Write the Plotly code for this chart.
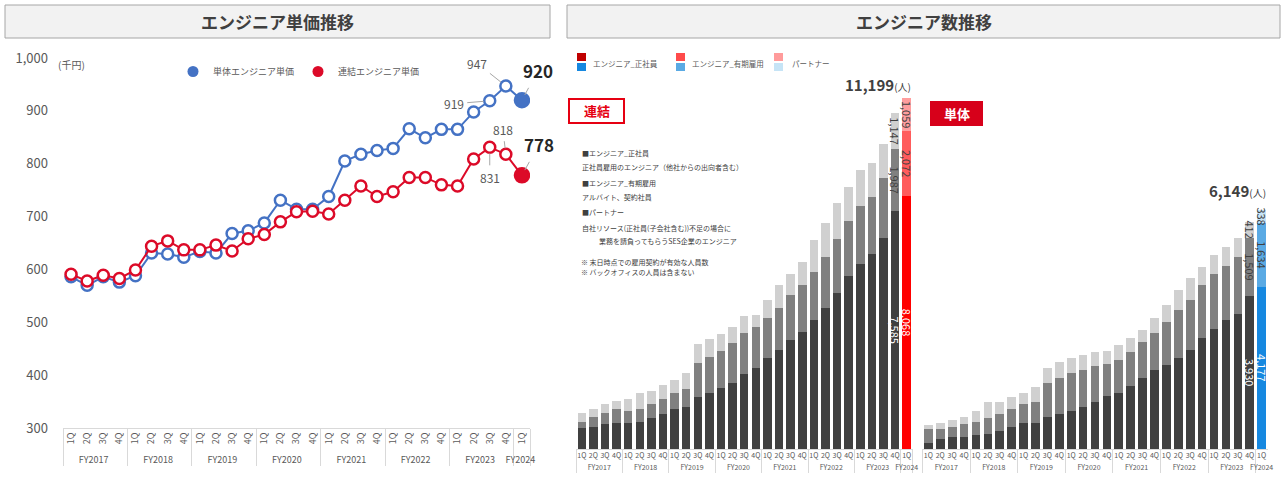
import plotly.graph_objects as go

W, H = 1286, 484
FONT = "Noto Sans CJK JP"

# ---------------- data ----------------
fiscal_years = ["FY2017", "FY2018", "FY2019", "FY2020", "FY2021", "FY2022", "FY2023", "FY2024"]
quarters = ["1Q", "2Q", "3Q", "4Q"]
quarters_per_year = [4, 4, 4, 4, 4, 4, 4, 1]

# engineer unit price (thousand yen)
unit_price_single = [586, 570, 586, 576, 588, 631, 629, 623, 634, 631, 668, 673, 688, 731, 714,
                     714, 738, 805, 818, 825, 829, 866, 849, 865, 865, 898, 919, 947, 920]
unit_price_consol = [591, 578, 589, 583, 599, 644, 654, 637, 637, 646, 635, 658, 666, 690, 709,
                     710, 705, 731, 758, 738, 747, 774, 774, 760, 758, 809, 831, 818, 778]

# engineer headcount - consolidated
consol_regular = [660, 711, 788, 820, 839, 861, 979, 1110, 1266, 1349, 1675, 1796, 1936, 2096, 2393,
                  2574, 2903, 3158, 3477, 3732, 4115, 4488, 4986, 5528, 5902, 6221, 6721, 7585, 8068]
consol_fixed = [211, 319, 370, 446, 373, 415, 447, 485, 530, 565, 1078, 1148, 1200, 1276, 1317,
                1327, 1276, 1340, 1436, 1500, 1531, 1627, 1713, 1755, 1850, 1827, 1914, 1987, 2072]
consol_partner = [287, 236, 278, 275, 383, 520, 434, 447, 421, 520, 587, 565, 523, 529, 533,
                  374, 574, 734, 670, 733, 1021, 1104, 1158, 1084, 1148, 1066, 1095, 1147, 1059]

# engineer headcount - standalone
single_regular = [163, 249, 300, 317, 360, 377, 463, 574, 661, 677, 816, 893, 985, 1088, 1217,
                  1364, 1449, 1621, 1827, 2033, 2161, 2334, 2547, 2848, 3080, 3319, 3473, 3930, 4177]
single_fixed = [344, 274, 274, 318, 343, 412, 429, 455, 489, 541, 890, 934, 970, 945, 919,
                823, 841, 875, 926, 952, 1107, 1243, 1287, 1372, 1423, 1390, 1459, 1509, 1634]
single_partner = [110, 138, 172, 196, 275, 429, 326, 301, 299, 370, 378, 412, 386, 386, 360,
                  335, 386, 360, 309, 386, 437, 514, 558, 471, 489, 481, 489, 412, 338]

series_names = ["エンジニア_正社員", "エンジニア_有期雇用", "パートナー"]
price_names = ["単体エンジニア単価", "連結エンジニア単価"]

note_lines = [
    "■エンジニア_正社員",
    "正社員雇用のエンジニア（他社からの出向者含む）",
    "■エンジニア_有期雇用",
    "アルバイト、契約社員",
    "■パートナー",
    "自社リソース(正社員(子会社含む))不足の場合に",
    "　業務を請負ってもらうSES企業のエンジニア",
    "※ 末日時点での雇用契約が有効な人員数",
    "※ バックオフィスの人員は含まない",
]

# ---------------- helpers ----------------
fy_labels, q_labels = [], []
for fy, nq in zip(fiscal_years, quarters_per_year):
    for q in quarters[:nq]:
        fy_labels.append(fy)
        q_labels.append(q)
xcat = [fy_labels, q_labels]
N = len(q_labels)


def px(x):
    return x / W


def py(y):
    return 1 - y / H


BLUE = "#4472C4"
RED = "#DC0A28"
GRAY_TXT = "#595959"
DARK_TXT = "#262626"

fig = go.Figure()

# ---------------- left: unit price lines ----------------
for vals, col in [(unit_price_single, BLUE), (unit_price_consol, RED)]:
    n = len(vals)
    fig.add_trace(go.Scatter(
        x=xcat, y=vals, mode="lines+markers", xaxis="x", yaxis="y",
        line=dict(color=col, width=2),
        marker=dict(size=[11] * (n - 1) + [14], color=["white"] * (n - 1) + [col], opacity=1,
                    line=dict(color=col, width=2.5)),
        showlegend=False, hoverinfo="skip"))

for name, col in zip(price_names, [BLUE, RED]):
    fig.add_trace(go.Scatter(
        x=[[fy_labels[0]], [q_labels[0]]], y=[None], mode="markers", xaxis="x", yaxis="y",
        marker=dict(size=11, color=col, opacity=1), name=name, hoverinfo="skip"))

# ---------------- right: stacked bars ----------------
gray_cols = ["#404040", "#808080", "#D0D0D0"]
red_cols = ["#FF0000", "#FF5C5C", "#FF9E9E"]
blue_cols = ["#1688E0", "#5AAAE4", "#C6E4F6"]
legend_red_cols = ["#C00000", "#FF4B4B", "#FF9B9B"]
text_cols = ["#FFFFFF", "#404040", "#404040"]

for (xa, ya, series, last_cols) in [
    ("x2", "y2", [consol_regular, consol_fixed, consol_partner], red_cols),
    ("x3", "y3", [single_regular, single_fixed, single_partner], blue_cols),
]:
    for vals, gcol, lcol, tcol, nm in zip(series, gray_cols, last_cols, text_cols, series_names):
        m = len(vals)
        texts = [""] * (m - 2) + [f"{v:,}" for v in vals[-2:]]
        fig.add_trace(go.Bar(
            x=xcat, y=vals, xaxis=xa, yaxis=ya, name=nm,
            marker=dict(color=[gcol] * (m - 1) + [lcol], line=dict(width=0)),
            text=texts, textposition="inside", textangle=90, insidetextanchor="middle",
            constraintext="none", textfont=dict(size=11, color=tcol, family=FONT),
            showlegend=False, hoverinfo="skip"))

# ---------------- axes ----------------
xcommon = dict(type="multicategory", showgrid=False, zeroline=False, ticks="",
               showdividers=True, dividercolor="#D9D9D9", dividerwidth=1,
               showline=True, linecolor="#D9D9D9", linewidth=1, automargin=False,
               range=[-0.5, N - 0.5], autorange=False)
fig.update_layout(
    template="none",
    xaxis=dict(domain=[px(63), px(530)], anchor="y", tickangle=-90,
               tickfont=dict(size=9, color=GRAY_TXT, family=FONT), **xcommon),
    yaxis=dict(domain=[py(428), py(58)], anchor="x", range=[300, 1000], autorange=False,
               tickvals=list(range(300, 1001, 100)), tickformat=",d", automargin=False,
               showgrid=False, zeroline=False, showline=False, ticks="",
               ticklabelstandoff=14, tickfont=dict(size=13, color=GRAY_TXT, family=FONT)),
    xaxis2=dict(domain=[px(576), px(912.5)], anchor="y2", tickangle=0,
                tickfont=dict(size=7, color=GRAY_TXT, family=FONT), **xcommon),
    yaxis2=dict(domain=[py(449), py(58)], anchor="x2", range=[0, 12476], autorange=False,
                visible=False, automargin=False),
    xaxis3=dict(domain=[px(922.4), px(1267.6)], anchor="y3", tickangle=0,
                tickfont=dict(size=7, color=GRAY_TXT, family=FONT), **xcommon),
    yaxis3=dict(domain=[py(449), py(58)], anchor="x3", range=[0, 10059], autorange=False,
                visible=False, automargin=False),
    barmode="stack", bargap=0.27,
    width=W, height=H, margin=dict(l=0, r=0, t=0, b=0, pad=0), autosize=False,
    paper_bgcolor="white", plot_bgcolor="white",
    font=dict(family=FONT, color=GRAY_TXT),
    showlegend=True,
    legend=dict(orientation="h", x=px(173), y=py(57), xanchor="left", yanchor="top",
                traceorder="normal",
                font=dict(size=9, color=GRAY_TXT, family=FONT),
                entrywidth=80, entrywidthmode="pixels", bgcolor="rgba(0,0,0,0)"),
)

shapes = []
annotations = []


def paper_text(x, y, text, size, color, xanchor="center", yanchor="middle"):
    annotations.append(dict(xref="paper", yref="paper", x=px(x), y=py(y), text=text,
                            xanchor=xanchor, yanchor=yanchor, showarrow=False,
                            font=dict(size=size, color=color, family=FONT)))


# title bars
for x0, x1, title in [(5, 550, "エンジニア単価推移"), (567, 1280, "エンジニア数推移")]:
    shapes.append(dict(type="rect", xref="paper", yref="paper", x0=px(x0), x1=px(x1),
                       y0=py(38), y1=py(5), fillcolor="#F2F2F2",
                       line=dict(color="#A6A6A6", width=1)))
    paper_text((x0 + x1) / 2, 22, f"<b>{title}</b>", 17, "#404040")

# unit label
paper_text(56, 65, "(千円)", 10, GRAY_TXT, xanchor="left")

# data labels on lines (index of point, arrow offsets, emphasis)
last = N - 1
label_specs = [
    (unit_price_single, last - 2, -36, 3, False),
    (unit_price_single, last - 1, -29, -23, False),
    (unit_price_single, last, 16, -30, True),
    (unit_price_consol, last - 2, 0, 30, False),
    (unit_price_consol, last - 1, -3, -25, False),
    (unit_price_consol, last, 17, -31, True),
]
for vals, i, ax, ay, big in label_specs:
    annotations.append(dict(
        xref="x", yref="y", x=i, y=vals[i], text=(f"<b>{vals[i]}</b>" if big else f"{vals[i]}"),
        showarrow=True, arrowhead=0, arrowwidth=1, arrowcolor="#A6A6A6", ax=ax, ay=ay,
        standoff=6, startstandoff=2 if not big else 4,
        font=dict(size=17 if big else 12, color=DARK_TXT if big else GRAY_TXT, family=FONT)))

# totals on bar charts
for xa, ya, series, yshift in [("x2", "y2", [consol_regular, consol_fixed, consol_partner], 1),
                               ("x3", "y3", [single_regular, single_fixed, single_partner], 7)]:
    total = sum(s[-1] for s in series)
    annotations.append(dict(
        xref=xa, yref=ya, x=N - 0.5, y=total, xanchor="right", yanchor="bottom", yshift=yshift,
        text=f"<b>{total:,}</b><span style='font-size:10px'>(人)</span>", showarrow=False,
        font=dict(size=15, color="#404040", family=FONT)))

# 連結 / 単体 badges
shapes.append(dict(type="rect", xref="paper", yref="paper", x0=px(569), x1=px(624),
                   y0=py(123), y1=py(99), fillcolor="white", line=dict(color="#E60012", width=2)))
paper_text(596.5, 111, "<b>連結</b>", 13, "#E60012")
shapes.append(dict(type="rect", xref="paper", yref="paper", x0=px(930), x1=px(983),
                   y0=py(126), y1=py(101), fillcolor="#D7001A", line=dict(width=0)))
paper_text(956.5, 113.5, "<b>単体</b>", 13, "white")

# custom legend for bars
leg_x = [577, 676, 774]
leg_text_x = [591, 690, 790]
for lx, tx, rc, bc, nm in zip(leg_x, leg_text_x, legend_red_cols, blue_cols, series_names):
    shapes.append(dict(type="rect", xref="paper", yref="paper", x0=px(lx), x1=px(lx + 9),
                       y0=py(61), y1=py(53), fillcolor=rc, line=dict(width=0)))
    shapes.append(dict(type="rect", xref="paper", yref="paper", x0=px(lx), x1=px(lx + 9),
                       y0=py(71), y1=py(63), fillcolor=bc, line=dict(width=0)))
    paper_text(tx, 63, nm, 7.5, GRAY_TXT, xanchor="left")

# notes block
note_y = [153, 167, 183, 197, 212, 228, 241, 262, 272]
note_x = [580, 580, 580, 580, 580, 580, 590, 579, 579]
for txt, ny, nx in zip(note_lines, note_y, note_x):
    paper_text(nx, ny, txt, 7, "#404040", xanchor="left")

fig.update_layout(shapes=shapes, annotations=annotations)
fig.write_html("out.html")
